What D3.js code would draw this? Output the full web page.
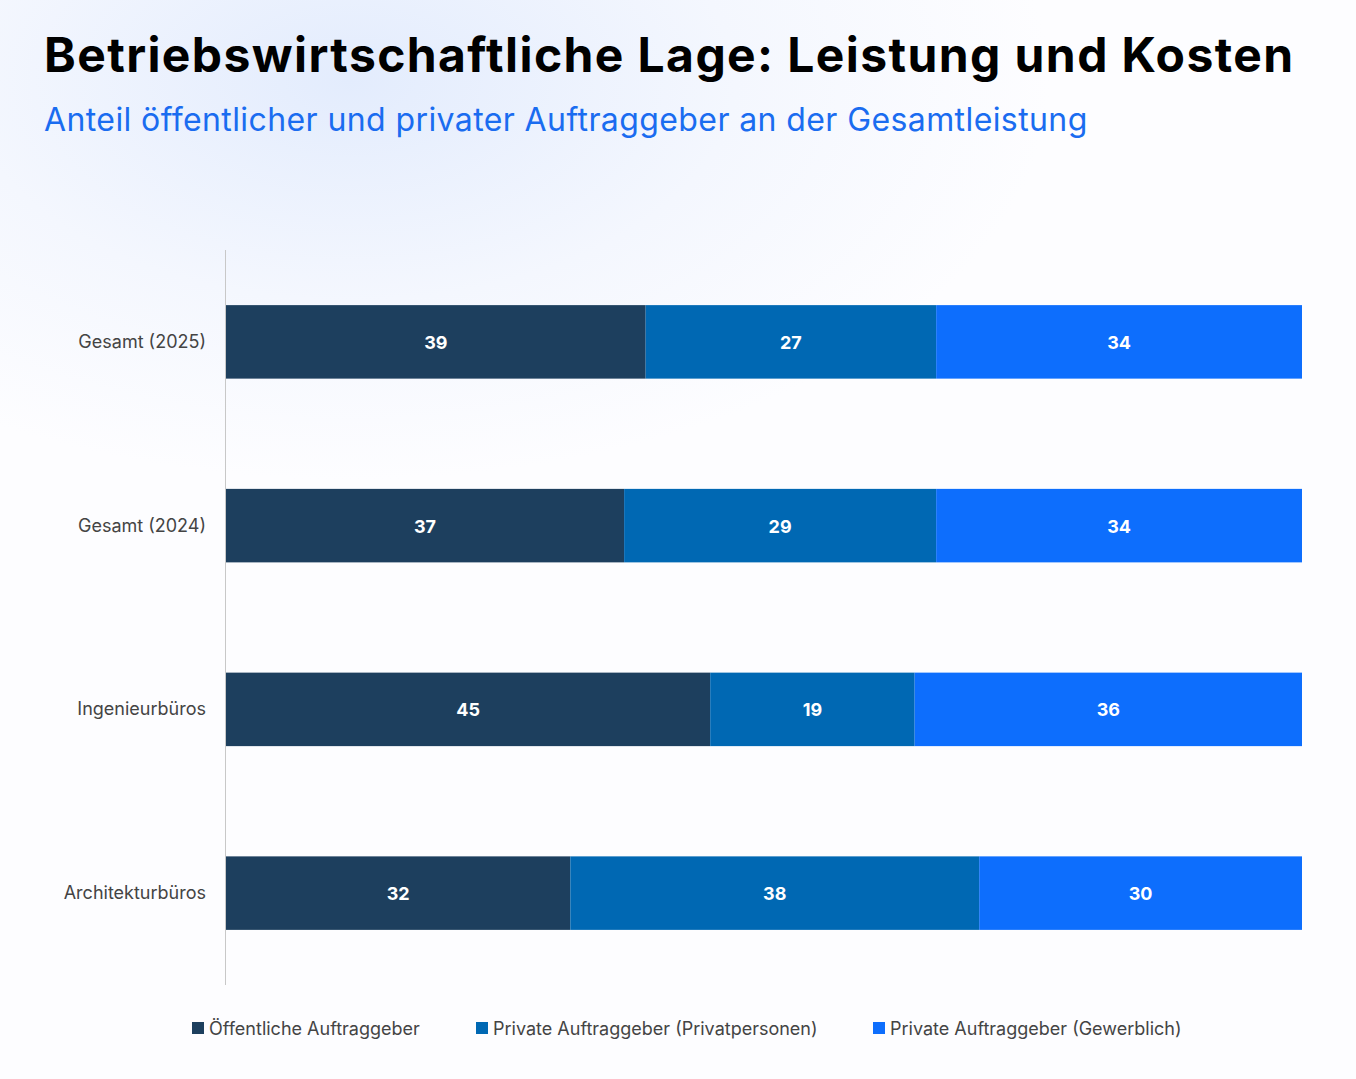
<!DOCTYPE html>
<html><head><meta charset="utf-8">
<script src="https://cdn.jsdelivr.net/npm/d3@7"></script>
<style>
body{margin:0;width:1356px;height:1079px;overflow:hidden;font-family:Inter,"Noto Sans",sans-serif;
background:radial-gradient(ellipse 700px 400px at 350px 80px,#e3ecfd 0%,#f4f7fe 55%,#fdfdff 100%);}
</style></head><body>
<svg id="c" width="1356" height="1079"></svg>
<script>
var categories = ['Gesamt (2025)', 'Gesamt (2024)', 'Ingenieurbüros', 'Architekturbüros']
var oeffentlich = [39, 37, 45, 32]
var privatPersonen = [27, 29, 19, 38]
var gewerblich = [34, 34, 36, 30]
var seriesNames = ['Öffentliche Auftraggeber', 'Private Auftraggeber (Privatpersonen)', 'Private Auftraggeber (Gewerblich)']
var colors = ['#1d3f5e', '#0068b3', '#0d6efd']

var svg = d3.select('#c')
svg.append('text').attr('x', 44).attr('y', 72).attr('font-size', 48).attr('font-weight', 700)
  .attr('letter-spacing', 1.4).attr('fill', '#000').text('Betriebswirtschaftliche Lage: Leistung und Kosten')
svg.append('text').attr('x', 44).attr('y', 131).attr('font-size', 32).attr('letter-spacing', 0.4)
  .attr('fill', '#1a6cf0').text('Anteil öffentlicher und privater Auftraggeber an der Gesamtleistung')

var rows = categories.map(function(c, i) {
  return { cat: c, vals: [oeffentlich[i], privatPersonen[i], gewerblich[i]] }
})
var x = d3.scaleLinear().domain([0, 100]).range([226, 1302])
var y = d3.scaleBand().domain(categories).range([250, 985]).paddingInner(0.6).paddingOuter(0.3)

svg.append('line').attr('x1', 225.5).attr('x2', 225.5).attr('y1', 250).attr('y2', 985)
  .attr('stroke', '#c8c8c8')

rows.forEach(function(r) {
  var total = d3.sum(r.vals), acc = 0
  r.vals.forEach(function(v, j) {
    var x0 = x(acc / total * 100), x1 = x((acc + v) / total * 100)
    acc += v
    svg.append('rect').attr('x', x0).attr('y', y(r.cat)).attr('width', x1 - x0)
      .attr('height', y.bandwidth()).attr('fill', colors[j])
    svg.append('text').attr('x', (x0 + x1) / 2).attr('y', y(r.cat) + y.bandwidth() / 2 + 7)
      .attr('text-anchor', 'middle').attr('font-size', 18).attr('font-weight', 700)
      .attr('fill', '#fff').text(v)
  })
  svg.append('text').attr('x', 206).attr('y', y(r.cat) + y.bandwidth() / 2 + 6)
    .attr('text-anchor', 'end').attr('font-size', 18).attr('fill', '#444').text(r.cat)
})

var legendX = [192, 476, 873]
seriesNames.forEach(function(n, i) {
  svg.append('rect').attr('x', legendX[i]).attr('y', 1022).attr('width', 12).attr('height', 12).attr('fill', colors[i])
  svg.append('text').attr('x', legendX[i] + 17).attr('y', 1035).attr('font-size', 18)
    .attr('fill', '#444').text(n)
})
</script></body></html>
